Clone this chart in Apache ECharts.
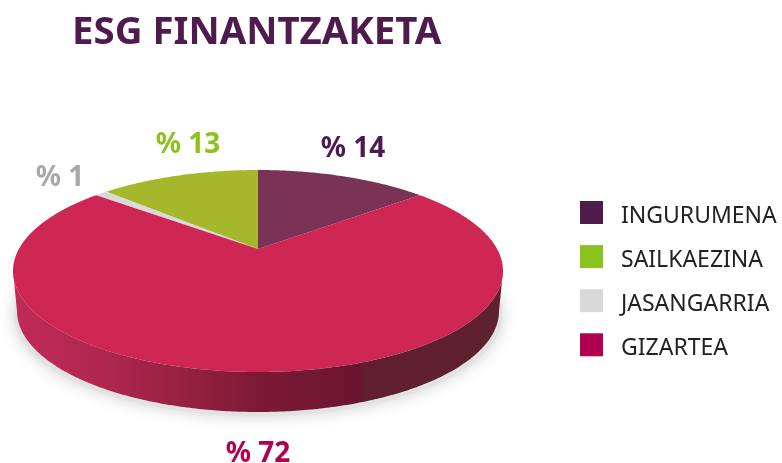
<!DOCTYPE html>
<html>
<head>
  <title>ESG Finantzaketa</title>
  <meta charset="UTF-8">
  <script src="https://cdn.jsdelivr.net/npm/echarts@6/dist/echarts.min.js"></script>
  <style>
    html, body { margin: 0; padding: 0; background: #fff; }
  </style>
</head>
<body>
  <div id="myChart" style="width: 782px; height: 463px;"></div>

  <script>
    const categories = ['INGURUMENA', 'SAILKAEZINA', 'JASANGARRIA', 'GIZARTEA'];
    const shares = [14, 13, 1, 72];
    const topColors = ['#7a3355', '#a5b82c', '#d9d9d9', '#ce2756'];
    const legendColors = ['#4f1a4e', '#8ac21e', '#d9d9d9', '#b0004f'];
    const labelColors = ['#4f1a4e', '#8cc11e', '#a8a8a8', '#b0004f'];
    const labelCenters = [[353, 149], [188, 145], [60, 178], [258, 454]];

    // 饼图的透视参数
    const topFace = { cx: 258, cy: 271, rx: 245, ry: 101 };
    const baseFace = { cx: 258, cy: 311, rx: 241, ry: 101 };
    const tilt = 0.218; // 圆心在椭圆内向上的偏移

    // 圆上的角度投影到单位椭圆坐标（顺时针，0 在正上方）
    function project(angle) {
      const x = Math.sin(angle);
      const y = Math.cos(angle);
      const d = 1 + tilt * y;
      return [x * Math.sqrt(1 - tilt * tilt) / d, (y + tilt) / d];
    }

    function onEllipse(e, p) {
      return [e.cx + e.rx * p[0], e.cy - e.ry * p[1]];
    }

    function sliceRange(index) {
      // 从第一块的右边缘开始，逆时针排列
      let end = shares[0];
      for (let i = 0; i < index; i++) end -= shares[i];
      return [(end - shares[index]) / 100 * Math.PI * 2, end / 100 * Math.PI * 2];
    }

    function renderSlice(index) {
      const range = sliceRange(index);
      const outline = [];
      const steps = Math.max(4, Math.round(shares[index] * 6));
      for (let i = 0; i <= steps; i++) {
        outline.push(project(range[0] + (range[1] - range[0]) * i / steps));
      }
      const front = outline.filter(p => p[1] <= 0);
      const children = [];
      if (front.length > 1) {
        const wall = front.map(p => onEllipse(topFace, p))
          .concat(front.slice().reverse().map(p => onEllipse(baseFace, p)));
        children.push({
          type: 'polygon',
          shape: { points: wall },
          style: {
            fill: {
              type: 'linear', x: 15, y: 0, x2: 503, y2: 0, global: true,
              colorStops: [
                { offset: 0, color: '#c02b57' },
                { offset: 0.18, color: '#b0274f' },
                { offset: 0.38, color: '#911f3e' },
                { offset: 0.5, color: '#7c1a35' },
                { offset: 0.705, color: '#6b1430' },
                { offset: 0.715, color: '#5f1f2e' },
                { offset: 1, color: '#5f2030' }
              ]
            }
          }
        });
      }
      children.push({
        type: 'polygon',
        shape: { points: [[topFace.cx, topFace.cy - topFace.ry * tilt]].concat(outline.map(p => onEllipse(topFace, p))) },
        style: { fill: topColors[index] }
      });
      children.push({
        type: 'text',
        x: labelCenters[index][0],
        y: labelCenters[index][1],
        style: {
          text: '% ' + shares[index],
          fill: labelColors[index],
          font: 'bold 28px "Noto Sans"',
          align: 'center',
          verticalAlign: 'middle'
        }
      });
      return { type: 'group', children: children };
    }

    const myChart = echarts.init(document.getElementById('myChart'));

    const option = {
      animation: false,
      title: {
        text: 'ESG FINANTZAKETA',
        left: 67,
        top: 9,
        textStyle: { color: '#4f1a4e', fontFamily: 'Noto Sans', fontWeight: 'bold', fontSize: 38.4 }
      },
      legend: {
        orient: 'vertical',
        left: 575,
        top: 196,
        itemWidth: 23,
        itemHeight: 23,
        itemGap: 17.1,
        selectedMode: false,
        icon: 'rect',
        data: categories.map((name, i) => ({ name: name, itemStyle: { color: legendColors[i] } })),
        formatter: '{t|{name}}',
        textStyle: {
          rich: {
            t: { color: '#222', fontFamily: 'Noto Sans', fontSize: 23, padding: [8, 0, 0, 13] }
          }
        }
      },
      series: [{
        // 底部阴影
        type: 'custom',
        coordinateSystem: 'none',
        silent: true,
        z: 1,
        data: [[0]],
        renderItem: () => ({
          type: 'ellipse',
          shape: { cx: baseFace.cx, cy: baseFace.cy + 4, rx: baseFace.rx + 3, ry: baseFace.ry },
          style: { fill: '#e2e2e2', shadowBlur: 16, shadowColor: '#d0d0d0' }
        })
      }].concat(categories.map((name, i) => ({
        name: name,
        type: 'custom',
        coordinateSystem: 'none',
        silent: true,
        z: 2,
        data: [[shares[i]]],
        itemStyle: { color: legendColors[i] },
        renderItem: () => renderSlice(i)
      })))
    };

    myChart.setOption(option);
  </script>
</body>
</html>
